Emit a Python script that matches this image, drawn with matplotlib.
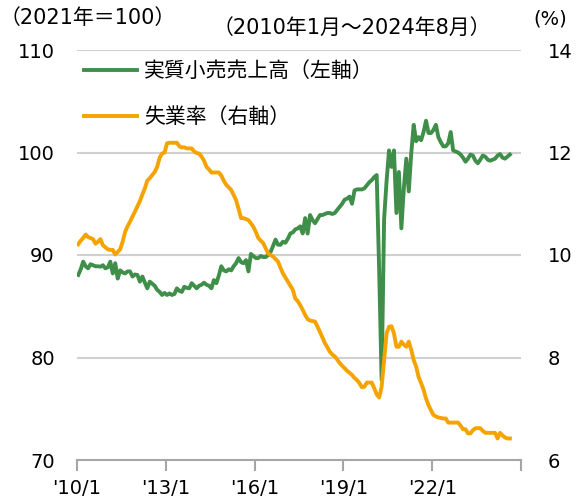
import matplotlib
matplotlib.use("Agg")
import matplotlib.pyplot as plt
import numpy as np

plt.rcParams['font.family'] = ['DejaVu Sans', 'Noto Sans CJK JP']

# 2010/1 - 2024/8 monthly values
retail = [
    88.05, 88.6, 89.35, 88.9, 88.7, 89.1, 89.0, 88.9, 88.9, 88.86,
    89.0, 88.7, 88.8, 89.35, 88.2, 89.2, 87.7, 88.5, 88.3, 88.2,
    88.4, 88.4, 87.9, 88.1, 88.05, 87.4, 87.9, 87.3, 86.75, 87.4,
    87.2, 87.0, 86.6, 86.4, 86.1, 86.3, 86.1, 86.25, 86.1, 86.2,
    86.75, 86.5, 86.4, 86.9, 86.8, 86.75, 87.25, 87.0, 86.75, 87.0,
    87.1, 87.3, 87.1, 87.0, 86.75, 87.55, 87.25, 88.0, 88.9, 88.5,
    88.4, 88.6, 88.5, 88.9, 89.2, 89.7, 89.3, 89.2, 89.5, 88.4,
    90.1, 89.9, 89.7, 89.7, 89.9, 89.8, 89.8, 90.0, 90.3, 90.9,
    91.5, 91.0, 91.0, 91.3, 91.2, 91.6, 92.1, 92.2, 92.5, 92.6,
    92.8, 92.1, 93.6, 92.1, 93.9, 93.4, 93.1, 93.5, 93.9, 93.9,
    94.0, 94.1, 94.1, 94.0, 94.1, 94.4, 94.7, 95.0, 95.4, 95.5,
    95.7, 95.0, 96.3, 96.4, 96.4, 96.4, 96.5, 96.8, 97.1, 97.3,
    97.6, 97.8, 88.5, 77.8, 93.5, 97.2, 100.2, 98.6, 100.2, 94.1,
    98.1, 92.6, 96.5, 99.4, 96.2, 99.9, 102.7, 101.1, 101.5, 101.2,
    102.0, 103.1, 101.9, 101.9, 102.2, 102.7, 101.5, 101.0, 100.6, 100.6,
    100.9, 102.0, 100.2, 100.1, 100.0, 99.8, 99.5, 99.1, 99.4, 99.8,
    99.7, 99.2, 98.95, 99.3, 99.7, 99.6, 99.3, 99.2, 99.3, 99.4,
    99.7, 99.85, 99.5, 99.4, 99.6, 99.8,
]
unemp = [
    10.21, 10.28, 10.33, 10.40, 10.35, 10.33, 10.31, 10.22, 10.26, 10.31,
    10.19, 10.15, 10.11, 10.10, 10.10, 10.01, 10.06, 10.11, 10.26, 10.45,
    10.56, 10.65, 10.75, 10.85, 10.95, 11.05, 11.18, 11.30, 11.45, 11.50,
    11.56, 11.62, 11.72, 11.90, 11.98, 12.00, 12.18, 12.19, 12.19, 12.19,
    12.19, 12.12, 12.10, 12.10, 12.08, 12.08, 12.08, 12.02, 11.99, 11.98,
    11.92, 11.84, 11.72, 11.67, 11.61, 11.61, 11.61, 11.61, 11.55, 11.45,
    11.37, 11.32, 11.27, 11.17, 11.07, 10.90, 10.72, 10.72, 10.70, 10.68,
    10.62, 10.55, 10.45, 10.33, 10.28, 10.23, 10.13, 10.03, 10.00, 9.97,
    9.92, 9.87, 9.75, 9.64, 9.56, 9.48, 9.40, 9.32, 9.15, 9.10,
    9.02, 8.93, 8.83, 8.75, 8.72, 8.71, 8.70, 8.60, 8.50, 8.39,
    8.28, 8.20, 8.11, 8.06, 8.02, 7.96, 7.89, 7.84, 7.79, 7.74,
    7.70, 7.66, 7.60, 7.56, 7.50, 7.42, 7.43, 7.51, 7.51, 7.51,
    7.40, 7.28, 7.22, 7.43, 7.95, 8.47, 8.60, 8.61, 8.47, 8.21,
    8.21, 8.31, 8.25, 8.21, 8.31, 8.15, 7.95, 7.82, 7.62, 7.50,
    7.37, 7.20, 7.07, 6.97, 6.88, 6.85, 6.83, 6.82, 6.81, 6.81,
    6.73, 6.73, 6.73, 6.73, 6.73, 6.67, 6.60, 6.60, 6.52, 6.52,
    6.58, 6.62, 6.62, 6.62, 6.57, 6.53, 6.53, 6.53, 6.53, 6.53,
    6.42, 6.53, 6.48, 6.44, 6.42, 6.42,
]
xlabels = ["'10/1", "'13/1", "'16/1", "'19/1", "'22/1", ""]
left_ticks = [70, 80, 90, 100, 110]
right_ticks = [6, 8, 10, 12, 14]

green = '#3f8f4a'
orange = '#f5a300'
grid_c = '#d0d0d0'
axis_c = '#a6a6a6'
fs = 14
fs_jp = 15

months = np.arange(len(retail))

fig = plt.figure(figsize=(5.76, 5.04), dpi=100)
ax = fig.add_axes([77 / 576, 44 / 504, 444 / 576, 410 / 504])
ax2 = ax.twinx()

l1, = ax.plot(months, retail, color=green, lw=2.8, label='実質小売売上高（左軸）')
l2, = ax2.plot(months, unemp, color=orange, lw=2.8, label='失業率（右軸）')

ax.set_xlim(-0.5, 179.5)
ax.set_ylim(70, 110)
ax2.set_ylim(6, 14)
ax.set_yticks(left_ticks)
ax2.set_yticks(right_ticks)
ax.set_xticks(np.arange(-0.5, 180, 36))
ax.set_xticklabels(xlabels)

for y in left_ticks[1:]:
    ax.axhline(y, color=grid_c, lw=1.5, zorder=0)

for a in (ax, ax2):
    for s in ('left', 'right', 'top'):
        a.spines[s].set_visible(False)
ax2.spines['bottom'].set_visible(False)
ax.spines['bottom'].set_color(axis_c)
ax.spines['bottom'].set_linewidth(1.5)

ax.tick_params(axis='y', length=0, pad=16, labelsize=fs)
ax2.tick_params(axis='y', length=0, pad=19, labelsize=fs)
ax.tick_params(axis='x', length=8, width=1.5, color=axis_c, pad=6, labelsize=fs)

fig.text(0 / 576, 1 - 18 / 504, '（2021年＝100）', fontsize=fs_jp, va='center', ha='left')
fig.text(352 / 576, 1 - 28 / 504, '（2010年1月～2024年8月）', fontsize=fs_jp, va='center', ha='center')
fig.text(550 / 576, 1 - 19 / 504, '(%)', fontsize=fs, va='center', ha='center')

fig.legend(handles=[l1, l2], loc='upper left', bbox_to_anchor=(84 / 576, 1 - 61 / 504),
           frameon=False, fontsize=fs_jp, handlelength=2.55, handletextpad=0.35,
           labelspacing=1.25, borderpad=0, borderaxespad=0)

fig.savefig('out.png', dpi=100)
